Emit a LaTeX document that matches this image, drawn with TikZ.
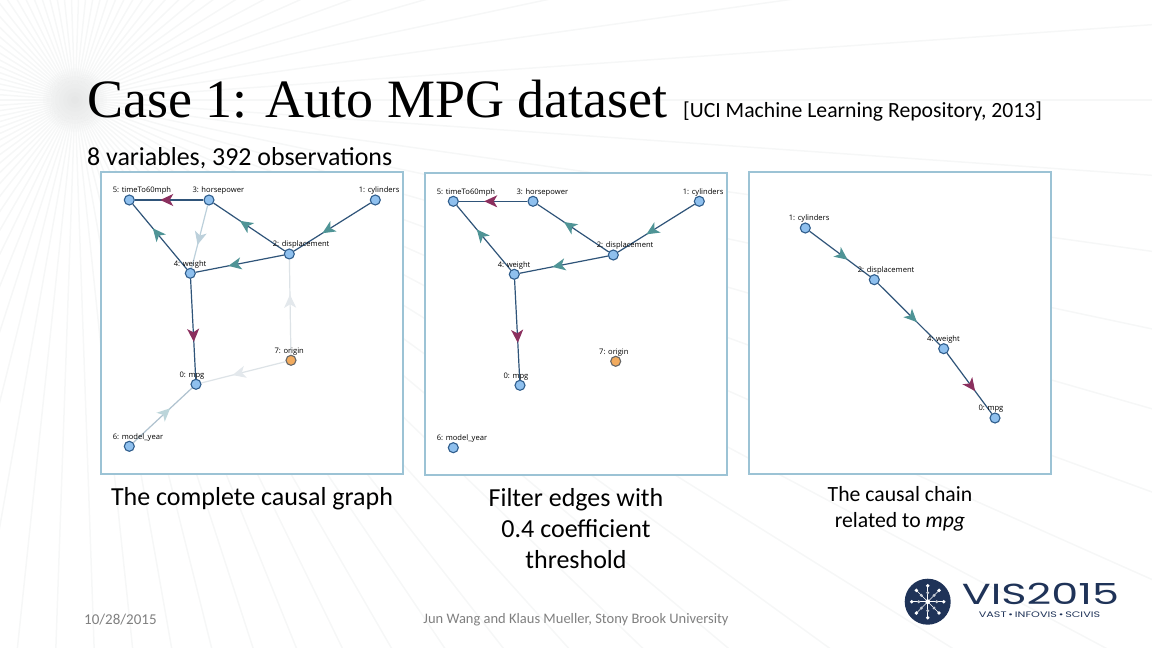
\documentclass[tikz,border=0pt]{standalone}
\usepackage{fontspec}
\usepackage{graphicx}
\setmainfont{Carlito}
\newfontfamily\titlefont{Liberation Serif}
\newfontfamily\labfont{Open Sans}
\newfontfamily\logofont{Poppins}
\usepackage{tikz}
\usetikzlibrary{arrows.meta,decorations.markings}

\definecolor{framecol}{HTML}{9CC3D5}
\definecolor{nodeblue}{HTML}{8FC0EE}
\definecolor{nodeline}{HTML}{2F5D8C}
\definecolor{nodeorange}{HTML}{F2AB5E}
\definecolor{edgedark}{HTML}{2F5479}
\definecolor{edgemid}{HTML}{AFC2CF}
\definecolor{edgepale}{HTML}{BCD0DB}
\definecolor{edgefaint}{HTML}{DDE3E7}
\definecolor{tipteal}{HTML}{4F9496}
\definecolor{tipmaroon}{HTML}{8B2F5E}
\definecolor{tippale}{HTML}{BCD5DA}
\definecolor{tipfaint}{HTML}{E3E8EC}
\definecolor{raycol}{HTML}{F6F7F7}
\definecolor{navy}{HTML}{1F3358}
\definecolor{footgray}{HTML}{7F7F7F}

\tikzset{
  panel/.style={draw=framecol,line width=2pt,fill=white,inner sep=0pt},
  var/.style={circle,draw=nodeline,line width=1.1pt,fill=nodeblue,minimum size=10pt,inner sep=0pt},
  varorange/.style={var,draw=gray!80!black,fill=nodeorange},
  varlab/.style={anchor=west,inner sep=0pt,font=\labfont\fontsize{7.6}{8}\selectfont},
  causal/.style 2 args={draw=#1,line width=1.2pt,postaction={decorate,
      decoration={markings,mark=at position .63 with
        {\arrow{Stealth[length=13pt,width=12pt,inset=3.5pt,color=#2]}}}}},
  caption/.style={align=center,font=\fontsize{26}{31}\selectfont},
  captionb/.style={align=center,font=\fontsize{21.7}{26}\selectfont},
  foot/.style={text=footgray,inner sep=0pt,font=\fontsize{15}{16}\selectfont},
}

\begin{document}
\begin{tikzpicture}[x=1pt,y=-1pt]
  \useasboundingbox (0,0) rectangle (1152,648);
  % background rays
  \coordinate (sun) at (75,100);
  \foreach \a in {0,4,...,356}
    \draw[raycol,line width=1.5pt] (sun) -- ++(\a:1400);
  \foreach \r in {4,8,...,32}
    \fill[black,opacity=.008] (sun) circle (\r);

  % title
  \node[anchor=base west,inner sep=0pt,font=\titlefont\fontsize{54}{54}\selectfont] (title) at (87,117) {Case 1: Auto MPG dataset};
  \node[anchor=base west,inner sep=0pt,font=\fontsize{21.7}{22}\selectfont] (source) at (683,117) {[UCI Machine Learning Repository, 2013]};
  \node[anchor=base west,inner sep=0pt,font=\fontsize{25.9}{26}\selectfont] (sub) at (87,165) {8 variables, 392 observations};

  % panels
  \node[panel,minimum width=302.6pt,minimum height=302pt] (panela) at (252,322.7) {};
  \node[panel,minimum width=302.6pt,minimum height=302pt] (panelb) at (576,324) {};
  \node[panel,minimum width=302.6pt,minimum height=302pt] (panelc) at (900,323) {};

  % complete graph
  \node[var] (a5) at (129.3,200) {};
  \node[var] (a3) at (209,200) {};
  \node[var] (a1) at (375.3,200) {};
  \node[var] (a2) at (289.3,254) {};
  \node[var] (a4) at (190.3,273.3) {};
  \node[varorange] (a7) at (291,360.3) {};
  \node[var] (a0) at (196,384.3) {};
  \node[var] (a6) at (129.3,446.3) {};
  \path[causal={edgedark}{tipmaroon}] (a3) -- (a5);
  \path[causal={edgedark}{tipteal}] (a4) -- (a5);
  \path[causal={edgedark}{tipteal}] (a2) -- (a3);
  \path[causal={edgedark}{tipteal}] (a1) -- (a2);
  \path[causal={edgedark}{tipteal}] (a2) -- (a4);
  \path[causal={edgedark}{tipmaroon}] (a4) -- (a0);
  \path[causal={edgepale}{edgepale}] (a3) -- (a4);
  \path[causal={edgefaint}{tipfaint}] (a7) -- (a2);
  \path[causal={edgefaint}{tipfaint}] (a7) -- (a0);
  \path[causal={edgemid}{tippale}] (a6) -- (a0);
  \node[varlab] (a5t) at ([shift={(-16.7,-9)}]a5.center) {5: timeTo60mph};
  \node[varlab] (a3t) at ([shift={(-16.7,-9)}]a3.center) {3: horsepower};
  \node[varlab] (a1t) at ([shift={(-16.7,-9)}]a1.center) {1: cylinders};
  \node[varlab] (a2t) at ([shift={(-16.7,-9)}]a2.center) {2: displacement};
  \node[varlab] (a4t) at ([shift={(-16.7,-9)}]a4.center) {4: weight};
  \node[varlab] (a7t) at ([shift={(-16.7,-9)}]a7.center) {7: origin};
  \node[varlab] (a0t) at ([shift={(-16.7,-9)}]a0.center) {0: mpg};
  \node[varlab] (a6t) at ([shift={(-16.7,-9)}]a6.center) {6: model\_year};

  % filtered graph
  \node[var] (b5) at (453.3,201.3) {};
  \node[var] (b3) at (533,201.3) {};
  \node[var] (b1) at (699.3,201.3) {};
  \node[var] (b2) at (613.3,255) {};
  \node[var] (b4) at (514.3,274.3) {};
  \node[varorange] (b7) at (615.7,361.3) {};
  \node[var] (b0) at (520,385.3) {};
  \node[var] (b6) at (453.3,447.7) {};
  \path[causal={edgedark}{tipmaroon}] (b3) -- (b5);
  \path[causal={edgedark}{tipteal}] (b4) -- (b5);
  \path[causal={edgedark}{tipteal}] (b2) -- (b3);
  \path[causal={edgedark}{tipteal}] (b1) -- (b2);
  \path[causal={edgedark}{tipteal}] (b2) -- (b4);
  \path[causal={edgedark}{tipmaroon}] (b4) -- (b0);
  \node[varlab] (b5t) at ([shift={(-16.7,-9)}]b5.center) {5: timeTo60mph};
  \node[varlab] (b3t) at ([shift={(-16.7,-9)}]b3.center) {3: horsepower};
  \node[varlab] (b1t) at ([shift={(-16.7,-9)}]b1.center) {1: cylinders};
  \node[varlab] (b2t) at ([shift={(-16.7,-9)}]b2.center) {2: displacement};
  \node[varlab] (b4t) at ([shift={(-16.7,-9)}]b4.center) {4: weight};
  \node[varlab] (b7t) at ([shift={(-16.7,-9)}]b7.center) {7: origin};
  \node[varlab] (b0t) at ([shift={(-16.7,-9)}]b0.center) {0: mpg};
  \node[varlab] (b6t) at ([shift={(-16.7,-9)}]b6.center) {6: model\_year};

  % chain
  \node[var] (c1) at (805.3,228) {};
  \node[var] (c2) at (874.3,279.7) {};
  \node[var] (c4) at (943.7,348.7) {};
  \node[var] (c0) at (995,418) {};
  \path[causal={edgedark}{tipteal}] (c1) -- (c2);
  \path[causal={edgedark}{tipteal}] (c2) -- (c4);
  \path[causal={edgedark}{tipmaroon}] (c4) -- (c0);
  \node[varlab] (c1t) at ([shift={(-16.7,-9)}]c1.center) {1: cylinders};
  \node[varlab] (c2t) at ([shift={(-16.7,-9)}]c2.center) {2: displacement};
  \node[varlab] (c4t) at ([shift={(-16.7,-9)}]c4.center) {4: weight};
  \node[varlab] (c0t) at ([shift={(-16.7,-9)}]c0.center) {0: mpg};

  % captions
  \node[caption,anchor=north] (capa) at (252,484) {The complete causal graph};
  \node[caption,anchor=north] (capb) at (576,484.5) {Filter edges with\\0.4 coefficient\\threshold};
  \node[captionb,anchor=north] (capc) at (900,483) {The causal chain\\related to \textit{mpg}};

  % footer
  \node[foot,anchor=west] (date) at (84,619.5) {10/28/2015};
  \node[foot,font=\fontsize{14.5}{16}\selectfont] (names) at (576,619.5) {Jun Wang and Klaus Mueller, Stony Brook University};

  % logo
  \coordinate (hub) at (927.7,601.7);
  \fill[navy] (hub) circle (23);
  \foreach \a in {0,45,...,315} {
    \draw[white,line width=.5pt] (hub) -- ++(\a:15);
    \fill[white!75!navy] (hub) ++(\a:9) circle (1.6);
    \fill[white] (hub) ++(\a:16) circle (1.9);
  }
  \fill[white] (hub) circle (2.4);
  \node[anchor=base west,inner sep=0pt,text=navy,font=\logofont\fontsize{29}{29}\selectfont] (vis) at (961.7,604) {\scalebox{1.48}[1]{VIS2015}};
  \node[inner sep=0pt,text=navy,font=\logofont\fontsize{8}{8}\selectfont] (tracks) at (1039.5,615) {\scalebox{1.4}[1]{VAST\,•\,INFOVIS\,•\,SCIVIS}};
\end{tikzpicture}
\end{document}
